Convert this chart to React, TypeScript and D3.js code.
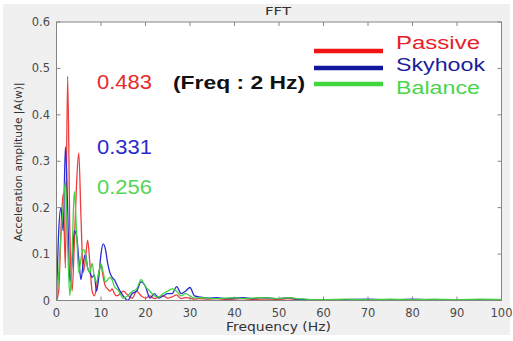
import React, { useEffect, useRef } from 'react';
import * as d3 from 'd3';

// frequency samples (Hz)
const freqs = [
  0, 0.5, 1, 1.5, 2, 2.5, 3, 3.5, 4, 4.5, 5, 5.5, 6, 6.5, 7, 7.5, 8, 8.5, 9, 9.5,
  10, 10.5, 11, 11.5, 12, 12.5, 13, 13.5, 14, 15, 16, 17, 18, 19, 20, 21, 22, 23,
  24, 25, 26, 27, 28, 29, 30, 31, 32, 34, 36, 38, 40, 42, 44, 46, 48, 50, 52, 54,
  56, 58, 60, 65, 70, 75, 80, 85, 90, 95, 100,
];

const passive = [
  0, 0.02, 0.15, 0.23, 0.07, 0.483, 0.15, 0.02, 0.12, 0.25, 0.318, 0.18, 0.06, 0.09, 0.13, 0.08, 0.02, 0.01, 0.03, 0.06,
  0.075, 0.05, 0.03, 0.025, 0.02, 0.025, 0.015, 0.01, 0.012, 0.02, 0.012, 0.005, 0.02, 0.01, 0.005, 0.01, 0.004, 0.008,
  0.01, 0.005, 0.008, 0.012, 0.004, 0.006, 0.005, 0.003, 0.004, 0.003, 0.004, 0.002, 0.003, 0.004, 0.002, 0.003, 0.003, 0.002, 0.004, 0.002,
  0.002, 0.001, 0.002, 0.001, 0.002, 0.001, 0.002, 0.001, 0.001, 0.001, 0,
];

const skyhook = [
  0, 0.15, 0.2, 0.15, 0.331, 0.2, 0.04, 0.08, 0.15, 0.14, 0.09, 0.045, 0.08, 0.1, 0.07, 0.06, 0.05, 0.055, 0.02, 0.05,
  0.1, 0.122, 0.11, 0.08, 0.06, 0.05, 0.045, 0.035, 0.025, 0.01, 0.0, 0.015, 0.02, 0.04, 0.03, 0.005, 0.015, 0.005,
  0.01, 0.015, 0.015, 0.03, 0.015, 0.02, 0.028, 0.01, 0.008, 0.005, 0.006, 0.004, 0.005, 0.006, 0.004, 0.006, 0.005, 0.004, 0.006, 0.003,
  0.002, 0.001, 0.001, 0.002, 0.003, 0.001, 0.003, 0.001, 0.001, 0.001, 0,
];

const balance = [
  0, 0.06, 0.14, 0.2, 0.256, 0.12, 0.01, 0.1, 0.235, 0.15, 0.06, 0.09, 0.11, 0.1, 0.07, 0.06, 0.08, 0.05, 0.04, 0.06,
  0.08, 0.06, 0.04, 0.045, 0.05, 0.045, 0.03, 0.025, 0.02, 0.005, 0.01, 0.02, 0.025, 0.045, 0.03, 0.02, 0.01, 0.008,
  0.015, 0.02, 0.025, 0.02, 0.01, 0.015, 0.01, 0.005, 0.006, 0.005, 0.004, 0.005, 0.006, 0.004, 0.005, 0.006, 0.005, 0.004, 0.006, 0.004,
  0.003, 0.002, 0.002, 0.003, 0.002, 0.003, 0.002, 0.003, 0.002, 0.003, 0.002,
];

const xTicks = [0, 10, 20, 30, 40, 50, 60, 70, 80, 90, 100];
const yTicks = [0, 0.1, 0.2, 0.3, 0.4, 0.5, 0.6];

const seriesNames = ['Passive', 'Skyhook', 'Balance'];
const peakLabels = ['0.483', '0.331', '0.256'];

const App = () => {
  const svgRef = useRef<SVGSVGElement>(null);

  useEffect(() => {
    document.body.style.margin = '0';
    const width = 513;
    const height = 341;
    const margin = { top: 22, right: 11.5, bottom: 40.5, left: 56.5 };
    const font = 'DejaVu Sans, sans-serif';
    const arial = 'Liberation Sans, Arial, sans-serif';

    const svg = d3.select(svgRef.current)
      .attr('width', width)
      .attr('height', height);

    svg.selectAll('*').remove();

    // figure background
    svg.append('rect')
      .attr('x', 3).attr('y', 4).attr('width', 507).attr('height', 331)
      .attr('fill', '#f0f0f0');

    const x = d3.scaleLinear().domain([0, 100]).range([margin.left, width - margin.right]);
    const y = d3.scaleLinear().domain([0, 0.6]).range([height - margin.bottom, margin.top]);

    const [x0, x1] = x.range();
    const [y0, y1] = y.range();

    svg.append('rect')
      .attr('x', x0).attr('y', y1).attr('width', x1 - x0).attr('height', y0 - y1)
      .attr('fill', '#fff');

    svg.append('clipPath').attr('id', 'plot-clip')
      .append('rect')
      .attr('x', x0).attr('y', y1 - 2).attr('width', x1 - x0).attr('height', y0 - y1 + 2);

    const colors = ['#ee3b3b', '#2b2bd6', '#3fd23f'];
    const seriesData = [passive, skyhook, balance];

    const line = d3.line<[number, number]>()
      .x(d => x(d[0]))
      .y(d => y(d[1]))
      .curve(d3.curveMonotoneX);

    const lines = svg.append('g').attr('clip-path', 'url(#plot-clip)');
    seriesData.forEach((vals, i) => {
      lines.append('path')
        .datum(freqs.map((f, j) => [f, vals[j]] as [number, number]))
        .attr('fill', 'none')
        .attr('stroke', colors[i])
        .attr('stroke-width', 1.3)
        .attr('d', line);
    });

    // box and inward ticks
    const axisColor = '#858585';
    svg.append('rect')
      .attr('x', x0).attr('y', y1).attr('width', x1 - x0).attr('height', y0 - y1)
      .attr('fill', 'none').attr('stroke', axisColor).attr('stroke-width', 1);

    const tickLen = 4;
    const ticks = svg.append('g').attr('stroke', axisColor).attr('stroke-width', 1);
    xTicks.forEach(t => {
      ticks.append('line').attr('x1', x(t)).attr('x2', x(t)).attr('y1', y0).attr('y2', y0 - tickLen);
      ticks.append('line').attr('x1', x(t)).attr('x2', x(t)).attr('y1', y1).attr('y2', y1 + tickLen);
    });
    yTicks.forEach(t => {
      ticks.append('line').attr('x1', x0).attr('x2', x0 + tickLen).attr('y1', y(t)).attr('y2', y(t));
      ticks.append('line').attr('x1', x1).attr('x2', x1 - tickLen).attr('y1', y(t)).attr('y2', y(t));
    });

    const labelColor = '#4a4a4a';
    svg.append('g').selectAll('text')
      .data(xTicks).enter().append('text')
      .attr('x', d => x(d)).attr('y', 317)
      .attr('text-anchor', 'middle')
      .attr('font-family', font).attr('font-size', 11.5)
      .attr('fill', labelColor)
      .text(d => String(d));

    svg.append('g').selectAll('text')
      .data(yTicks).enter().append('text')
      .attr('x', 50).attr('y', d => y(d) + 4)
      .attr('text-anchor', 'end')
      .attr('font-family', font).attr('font-size', 11.5)
      .attr('fill', labelColor)
      .text(d => (d === 0 ? '0' : d.toFixed(1)));

    svg.append('text')
      .attr('x', 265).attr('y', 15)
      .attr('font-family', font).attr('font-size', 10.5)
      .attr('fill', '#333')
      .attr('textLength', 26).attr('lengthAdjust', 'spacingAndGlyphs')
      .text('FFT');

    svg.append('text')
      .attr('x', 226).attr('y', 331)
      .attr('font-family', font).attr('font-size', 11.5)
      .attr('fill', '#333')
      .attr('textLength', 105).attr('lengthAdjust', 'spacingAndGlyphs')
      .text('Frequency (Hz)');

    svg.append('text')
      .attr('transform', `translate(22,162) rotate(-90)`)
      .attr('text-anchor', 'middle')
      .attr('font-family', font).attr('font-size', 11)
      .attr('fill', '#333')
      .attr('textLength', 159).attr('lengthAdjust', 'spacingAndGlyphs')
      .text('Acceleration amplitude  |A(w)|');

    // peak value annotations
    const peakColors = ['#e62a2a', '#2b2bcc', '#55d455'];
    const peakY = [89, 154, 194];
    peakLabels.forEach((lab, i) => {
      svg.append('text')
        .attr('x', 97).attr('y', peakY[i])
        .attr('font-family', arial).attr('font-size', 19.5)
        .attr('fill', peakColors[i])
        .attr('textLength', 55).attr('lengthAdjust', 'spacingAndGlyphs')
        .text(lab);
    });

    svg.append('text')
      .attr('x', 173).attr('y', 89)
      .attr('font-family', arial).attr('font-size', 18.5).attr('font-weight', 'bold')
      .attr('fill', '#111')
      .attr('textLength', 132).attr('lengthAdjust', 'spacingAndGlyphs')
      .text('(Freq : 2 Hz)');

    // legend
    const legendLine = ['#f01414', '#10189e', '#3fd63f'];
    const legendText = ['#e8202a', '#1c1c9c', '#4cd44c'];
    const legendLineY = [51, 68, 84];
    const legendTextY = [49, 71, 94];
    const legendTextW = [84, 89, 84];
    seriesNames.forEach((name, i) => {
      svg.append('line')
        .attr('x1', 314).attr('x2', 383)
        .attr('y1', legendLineY[i]).attr('y2', legendLineY[i])
        .attr('stroke', legendLine[i]).attr('stroke-width', 4.5);
      svg.append('text')
        .attr('x', 396).attr('y', legendTextY[i])
        .attr('font-family', arial).attr('font-size', 17.5)
        .attr('fill', legendText[i])
        .attr('textLength', legendTextW[i]).attr('lengthAdjust', 'spacingAndGlyphs')
        .text(name);
    });
  }, []);

  return <svg ref={svgRef}></svg>;
};

export default App;
